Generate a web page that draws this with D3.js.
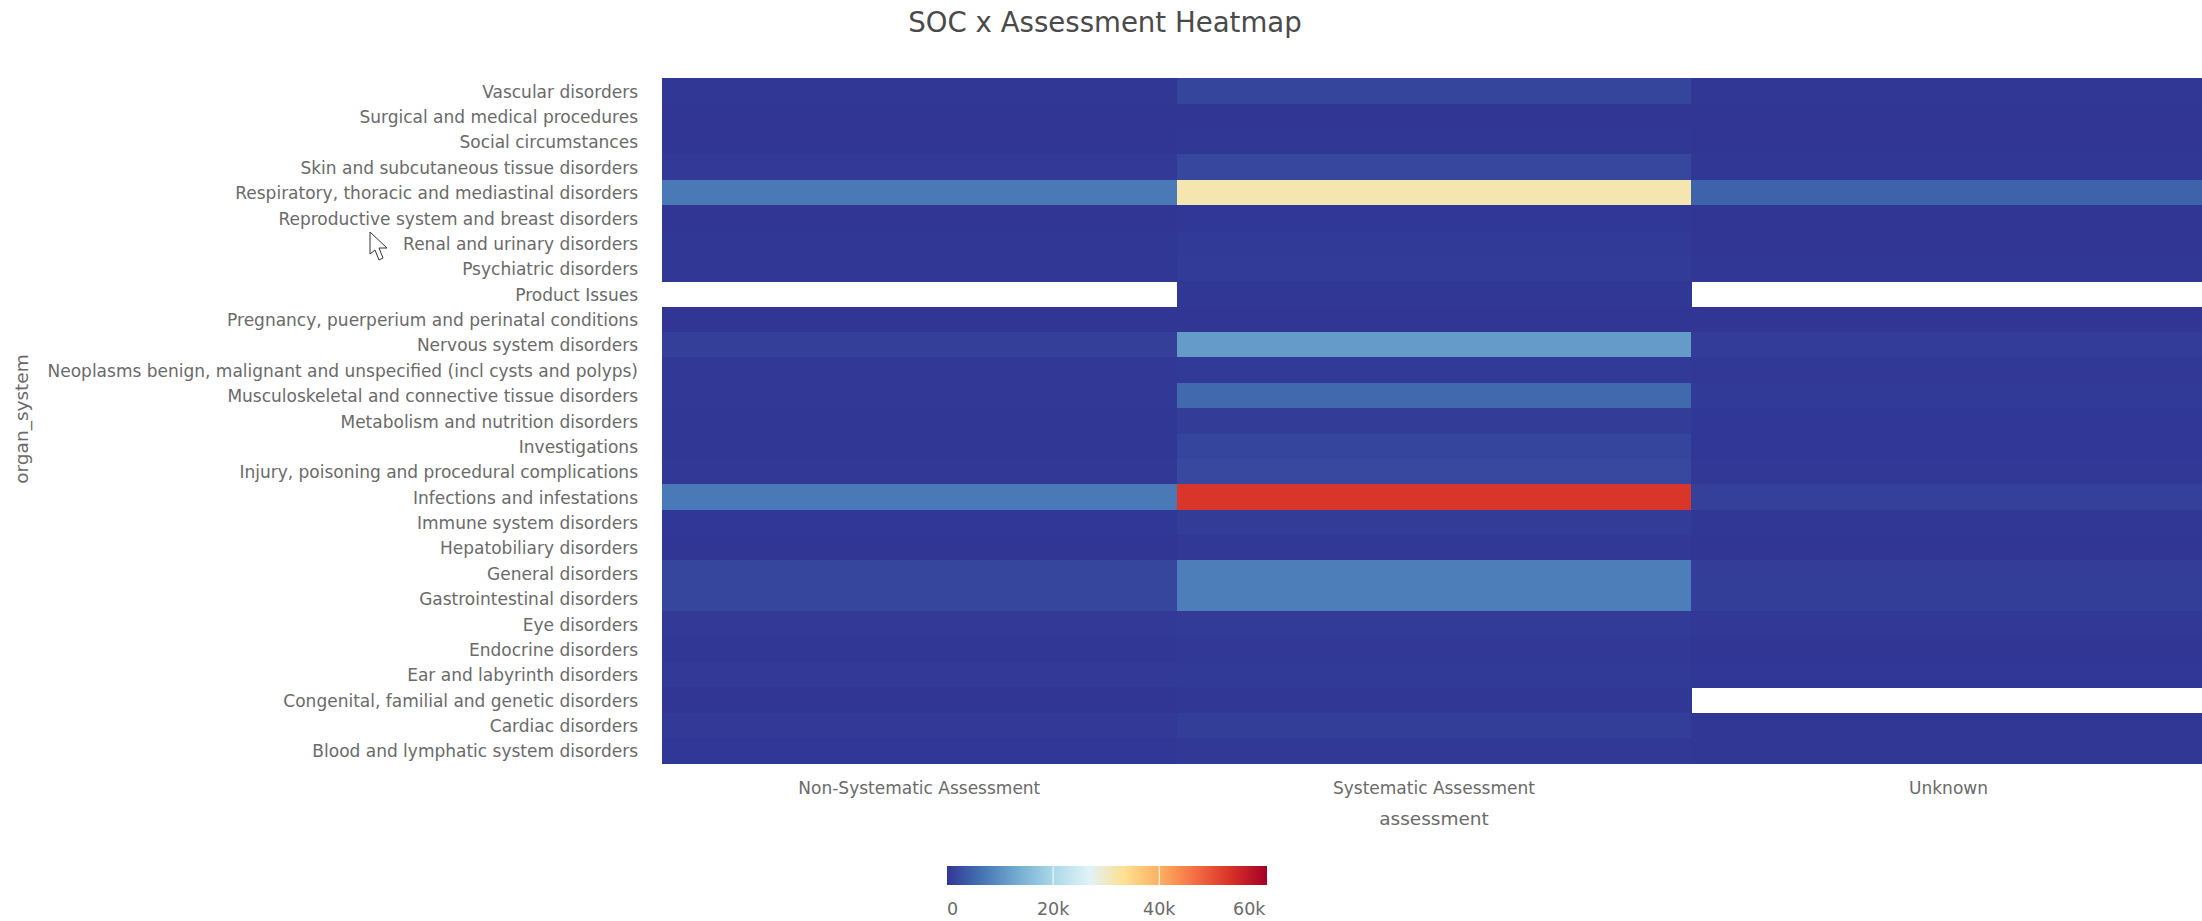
<!DOCTYPE html>
<html>
<head>
<meta charset="utf-8">
<script src="https://cdn.jsdelivr.net/npm/d3@7/dist/d3.min.js"></script>
<style>
html,body{margin:0;padding:0;background:#fff;overflow:hidden}
svg{display:block}
text{font-family:"DejaVu Sans",sans-serif}
</style>
</head>
<body>
<svg id="chart" width="2202" height="921"></svg>
<script>
const organSystems = ["Vascular disorders","Surgical and medical procedures","Social circumstances","Skin and subcutaneous tissue disorders","Respiratory, thoracic and mediastinal disorders","Reproductive system and breast disorders","Renal and urinary disorders","Psychiatric disorders","Product Issues","Pregnancy, puerperium and perinatal conditions","Nervous system disorders","Neoplasms benign, malignant and unspecified (incl cysts and polyps)","Musculoskeletal and connective tissue disorders","Metabolism and nutrition disorders","Investigations","Injury, poisoning and procedural complications","Infections and infestations","Immune system disorders","Hepatobiliary disorders","General disorders","Gastrointestinal disorders","Eye disorders","Endocrine disorders","Ear and labyrinth disorders","Congenital, familial and genetic disorders","Cardiac disorders","Blood and lymphatic system disorders"];
const assessments = ["Non-Systematic Assessment","Systematic Assessment","Unknown"];
const nonSystematic = [100,40,20,350,7300,30,60,80,null,20,1000,250,250,100,100,200,7300,150,50,1700,1700,350,80,300,40,300,150];
const systematic = [1600,40,80,1800,31500,150,450,550,100,40,11300,450,5500,750,1500,1900,53000,700,250,7800,7800,550,180,450,60,800,250];
const unknown = [70,20,15,80,4800,20,50,80,null,20,600,180,400,120,120,170,1100,80,40,900,800,180,50,120,null,80,80];
const colorRamp = ["#313695","#4575b4","#74add1","#abd9e9","#e0f3f8","#fee090","#fdae61","#f46d43","#d73027","#a50026"];
const legendTicks = [0,20000,40000,60000];
const maxValue = 60300;

const series = [nonSystematic, systematic, unknown];
const svg = d3.select("#chart");
const left = 662, top_ = 78.3, colW = 514.6, bottom = 763.5;
const textGrey = "#6a6a6a";

const x = d3.scaleBand().domain(assessments).range([left, left + colW * 3]);
const y = d3.scaleBand().domain(organSystems).range([top_, bottom]);
const color = d3.scaleLinear()
  .domain(colorRamp.map((_, i) => i * maxValue / (colorRamp.length - 1)))
  .range(colorRamp);

const cells = [];
series.forEach((vals, c) => vals.forEach((v, r) => {
  if (v !== null) cells.push({a: assessments[c], o: organSystems[r], v});
}));

svg.append("g").selectAll("rect").data(cells).join("rect")
  .attr("x", d => x(d.a)).attr("y", d => y(d.o))
  .attr("width", x.bandwidth() + 0.5).attr("height", y.bandwidth() + 0.3)
  .attr("fill", d => color(d.v))
  .attr("shape-rendering", "crispEdges");

const yAxis = svg.append("g").attr("transform", `translate(${left},1.2)`)
  .call(d3.axisLeft(y).tickSize(0).tickPadding(24));
const xAxis = svg.append("g").attr("transform", `translate(0,${bottom})`)
  .call(d3.axisBottom(x).tickSize(0).tickPadding(18));
[yAxis, xAxis].forEach(g => {
  g.select(".domain").remove();
  g.selectAll("text").attr("fill", textGrey).style("font-size", "17px")
    .style("font-family", '"DejaVu Sans",sans-serif');
});

svg.append("text").attr("x", 1105).attr("y", 32).attr("text-anchor", "middle")
  .attr("fill", "#4a4a4a").style("font-size", "27.6px").text("SOC x Assessment Heatmap");
svg.append("text").attr("x", 1434).attr("y", 825).attr("text-anchor", "middle")
  .attr("fill", textGrey).style("font-size", "18.5px").text("assessment");
svg.append("text").attr("transform", "translate(28,419) rotate(-90)").attr("text-anchor", "middle")
  .attr("fill", textGrey).style("font-size", "18.5px").text("organ_system");

// colour legend
const legendX = d3.scaleLinear().domain([0, maxValue]).range([947, 1267]);
const grad = svg.append("defs").append("linearGradient").attr("id", "ramp");
grad.selectAll("stop").data(colorRamp).join("stop")
  .attr("offset", (_, i) => i / (colorRamp.length - 1)).attr("stop-color", d => d);
svg.append("rect").attr("x", legendX(0)).attr("y", 866)
  .attr("width", legendX(maxValue) - legendX(0)).attr("height", 19).attr("fill", "url(#ramp)");
svg.append("g").selectAll("line").data(legendTicks.slice(1, 3)).join("line")
  .attr("x1", d => legendX(d)).attr("x2", d => legendX(d)).attr("y1", 866).attr("y2", 885)
  .attr("stroke", "#fff").attr("stroke-width", 1);
svg.append("g").selectAll("text").data(legendTicks).join("text")
  .attr("x", d => legendX(d)).attr("y", 915)
  .attr("text-anchor", (d, i) => i === 0 ? "start" : i === legendTicks.length - 1 ? "end" : "middle")
  .attr("fill", textGrey).style("font-size", "17.5px")
  .text(d => d === 0 ? "0" : d3.format("~s")(d));

// mouse pointer captured in the screenshot
svg.append("path")
  .attr("d", "M370 232 L370 254 L375 250 L379 260 L383 258 L379 248 L387 248 Z")
  .attr("fill", "#fff").attr("stroke", "#333").attr("stroke-width", 1);
</script>
</body>
</html>
